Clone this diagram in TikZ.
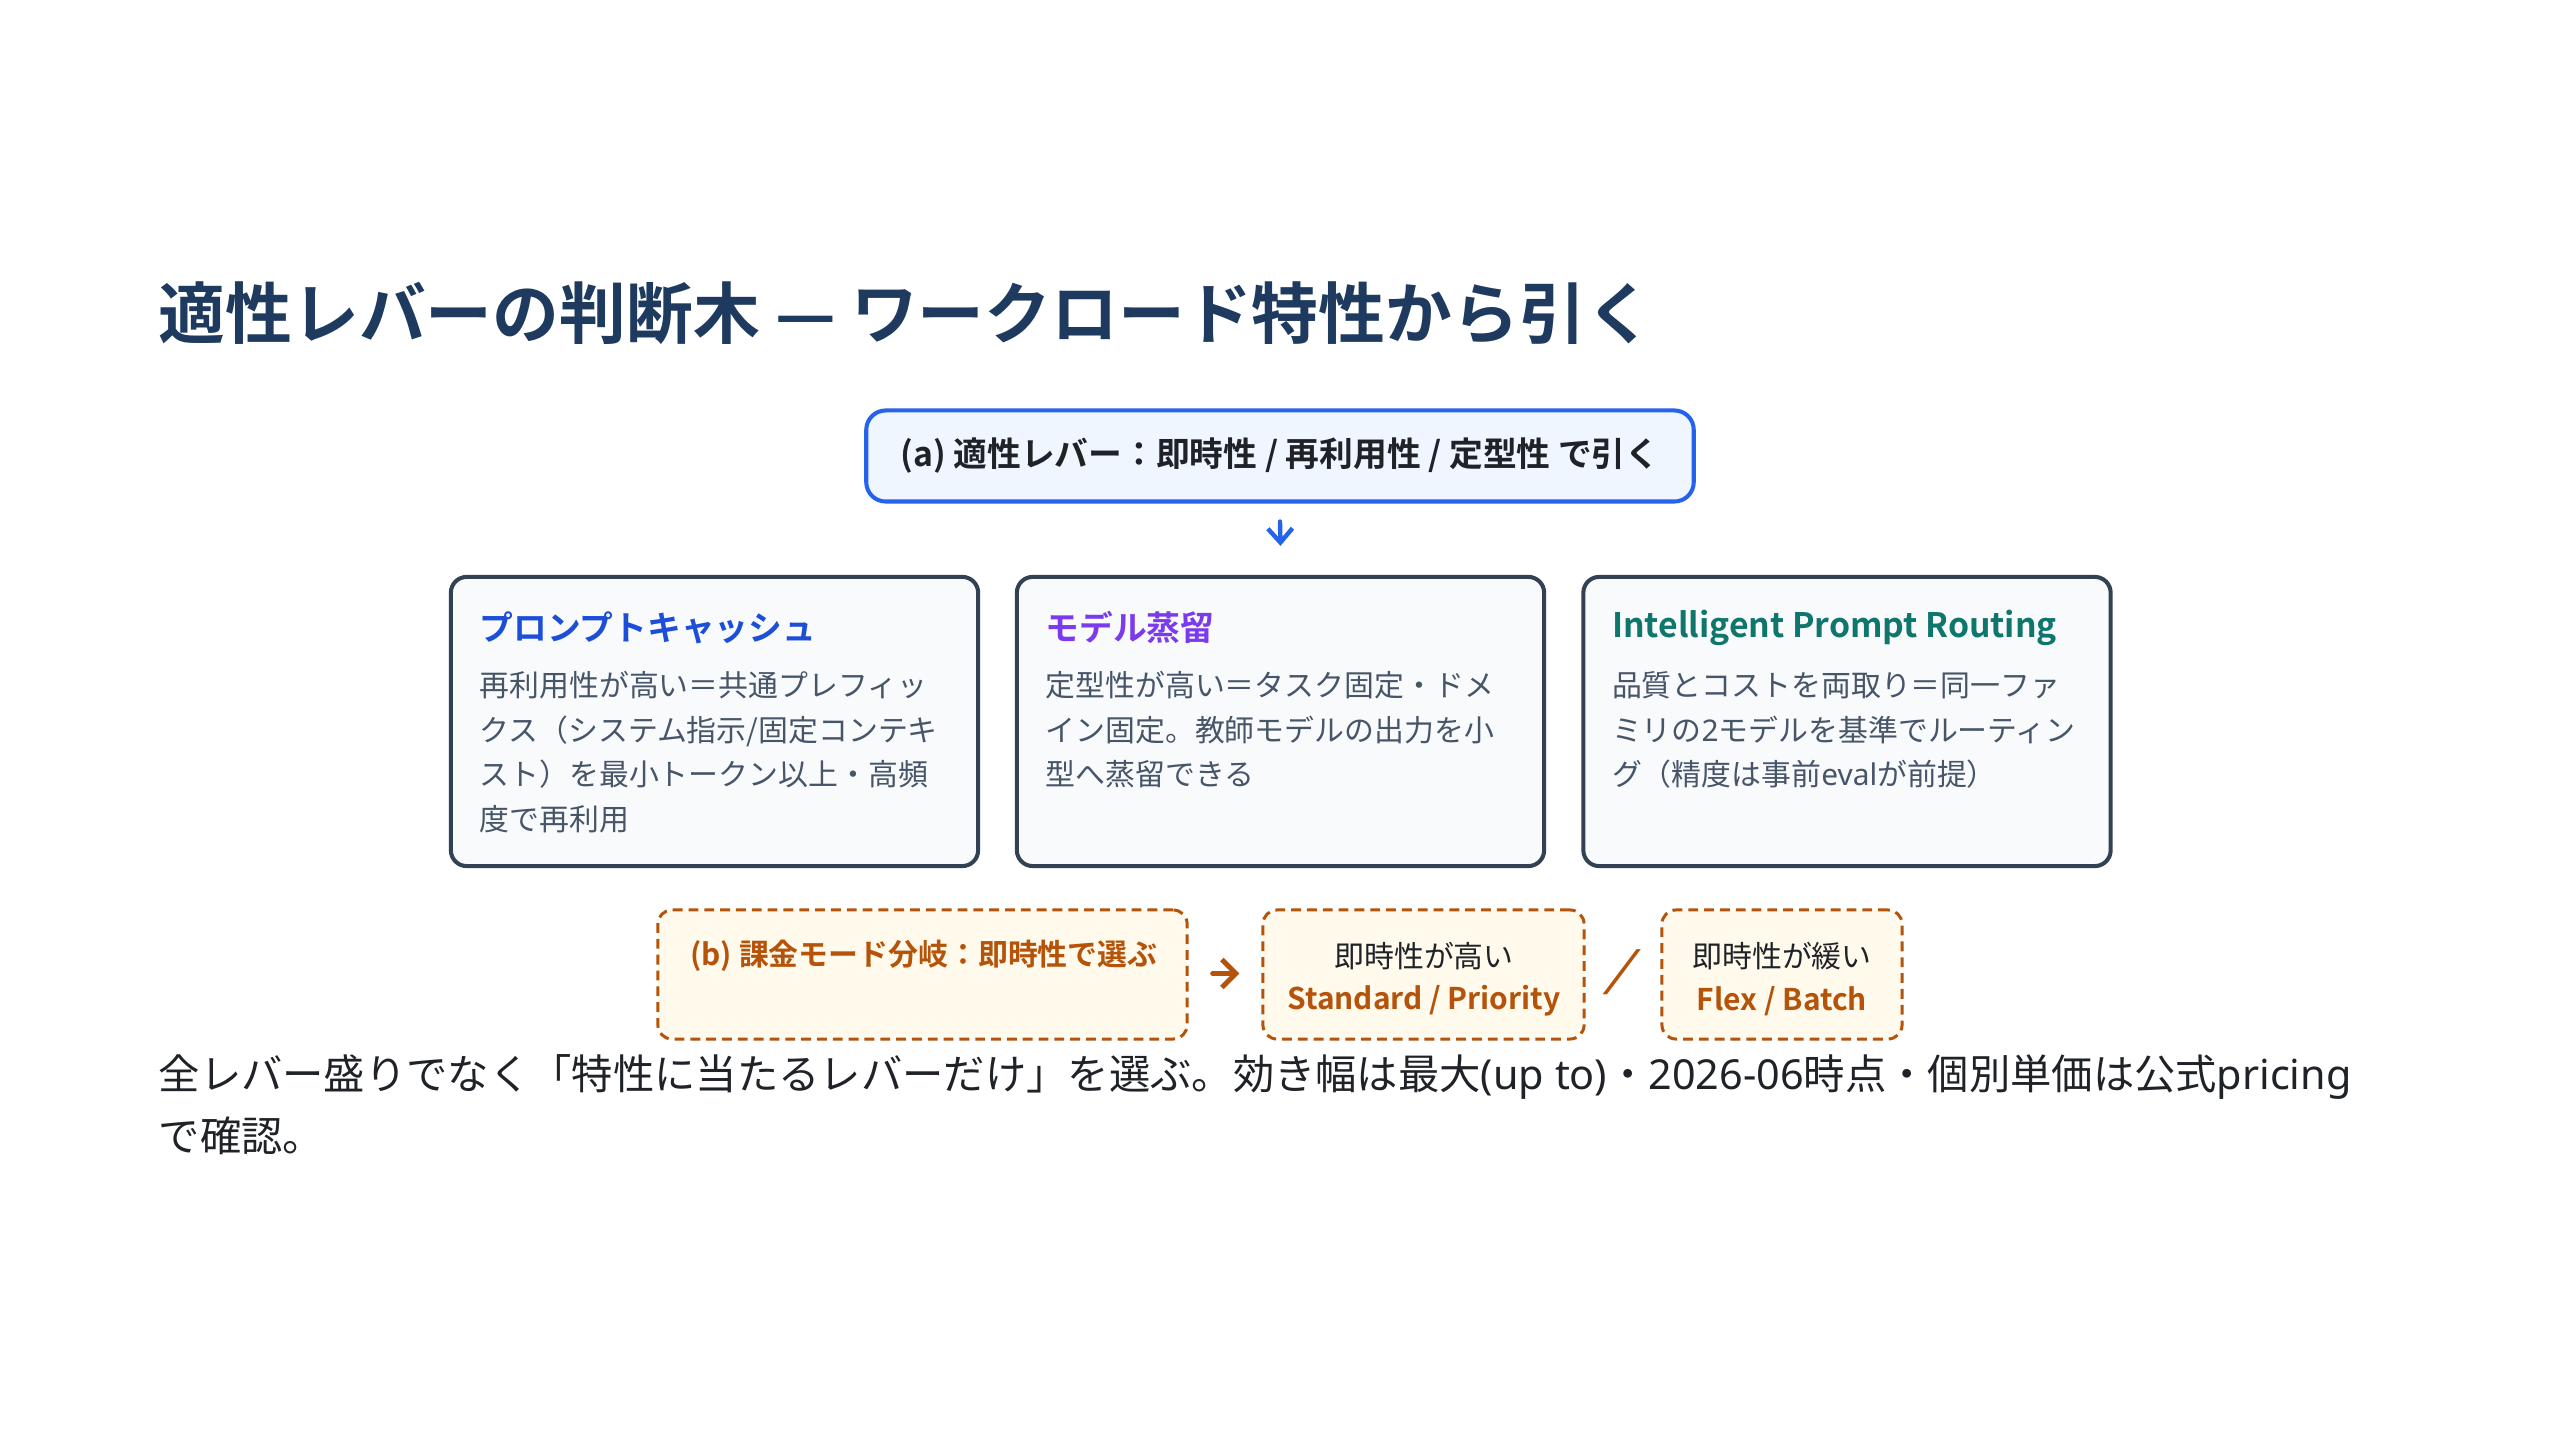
\documentclass[tikz,border=0pt]{standalone}
\usepackage{fontspec}
\setmainfont{Noto Sans CJK JP}[BoldFont={Noto Sans CJK JP Bold}]
\newfontfamily\latinsans{Noto Sans}
\newcommand{\lat}[1]{{\latinsans #1}}
\usetikzlibrary{positioning,arrows.meta}
\definecolor{titlenavy}{HTML}{1E3A5F}
\definecolor{leverblue}{HTML}{2563EB}
\definecolor{leverfill}{HTML}{EFF6FF}
\definecolor{cardline}{HTML}{334155}
\definecolor{cardfill}{HTML}{F8FAFC}
\definecolor{cacheblue}{HTML}{1D4ED8}
\definecolor{distpurple}{HTML}{7C3AED}
\definecolor{routeteal}{HTML}{0F766E}
\definecolor{bodygray}{HTML}{475569}
\definecolor{billorange}{HTML}{B45309}
\definecolor{billfill}{HTML}{FFFAEB}
\definecolor{inktext}{HTML}{1F2328}
\tikzset{
  lever/.style={draw=leverblue,fill=leverfill,line width=1.15pt,rounded corners=5.5pt,
    minimum width=8.27cm,minimum height=0.91cm,inner sep=0pt,text=inktext,
    font=\bfseries\fontsize{9.6pt}{11pt}\selectfont},
  card/.style={draw=cardline,fill=cardfill,line width=1.15pt,rounded corners=4.5pt,
    minimum width=5.27cm,minimum height=2.89cm,inner sep=0pt},
  cardhead/.style={anchor=west,inner sep=0pt,font=\bfseries\fontsize{9.6pt}{11pt}\selectfont},
  cardbody/.style={anchor=north west,inner sep=0pt,align=left,text=bodygray,
    font=\fontsize{8.5pt}{12.66pt}\selectfont},
  bill/.style={draw=billorange,fill=billfill,line width=0.85pt,dash pattern=on 2.8pt off 1.7pt,
    rounded corners=4pt,minimum height=1.29cm,inner sep=0pt},
  billtext/.style={inner sep=0pt,text=inktext,font=\fontsize{8.5pt}{10pt}\selectfont},
  billhead/.style={inner sep=0pt,text=billorange,font=\bfseries\fontsize{8.5pt}{10pt}\selectfont},
  leverarrow/.style={draw=leverblue,line width=1.25pt,line cap=round,
    -{Straight Barb[length=4pt,width=7pt,line width=1.25pt]}},
  billarrow/.style={draw=billorange,line width=1.4pt,line cap=round,
    -{Straight Barb[length=4pt,width=8pt,line width=1.4pt]}},
}
\begin{document}
\begin{tikzpicture}[x=0.01cm,y=-0.01cm]
  \useasboundingbox (0,0) rectangle (2560,1440);
  % title
  \node[anchor=west,inner sep=0pt,text=titlenavy,font=\bfseries\fontsize{19pt}{22pt}\selectfont]
    (title) at (158,313) {適性レバーの判断木 — ワークロード特性から引く};
  % (a) lever question
  \node[lever] (lever) at (1280,456) {(a) 適性レバー：即時性 / 再利用性 / 定型性 で引く};
  % three lever cards
  \node[card] (cache) at (714.5,721.5) {};
  \node[card] (dist) at (1280.5,721.5) {};
  \node[card] (route) at (1847,721.5) {};
  \draw[leverarrow] ([yshift=-0.18cm]lever.south) -- ([yshift=0.29cm]dist.north);
  \node[cardhead,text=cacheblue] (cachehead) at ([xshift=0.3cm,yshift=-0.525cm]cache.north west) {プロンプトキャッシュ};
  \node[cardhead,text=distpurple] (disthead) at ([xshift=0.3cm,yshift=-0.525cm]dist.north west) {モデル蒸留};
  \node[cardhead,text=routeteal] (routehead) at ([xshift=0.3cm,yshift=-0.525cm]route.north west) {Intelligent Prompt Routing};
  \node[cardbody] (cachebody) at ([xshift=0.3cm,yshift=-0.96cm]cache.north west)
    {再利用性が高い＝共通プレフィッ\\クス（システム指示/固定コンテキ\\スト）を最小トークン以上・高頻\\度で再利用};
  \node[cardbody] (distbody) at ([xshift=0.3cm,yshift=-0.96cm]dist.north west)
    {定型性が高い＝タスク固定・ドメ\\イン固定。教師モデルの出力を小\\型へ蒸留できる};
  \node[cardbody] (routebody) at ([xshift=0.3cm,yshift=-0.96cm]route.north west)
    {品質とコストを両取り＝同一ファ\\ミリの\lat{2}モデルを基準でルーティン\\グ（精度は事前\lat{eval}が前提）};
  % (b) billing mode
  \node[bill,minimum width=5.29cm] (billpick) at (922.5,974.5) {};
  \node[bill,minimum width=3.21cm] (billfast) at (1423.5,974.5) {};
  \node[bill,minimum width=2.40cm] (billslow) at (1782,974.5) {};
  \node[billhead] (pickhead) at (924,956) {(b) 課金モード分岐：即時性で選ぶ};
  \node[billtext] (fasttext) at (1424,956) {即時性が高い};
  \node[billhead] (fastmode) at (1424,1001) {Standard / Priority};
  \node[billtext] (slowtext) at (1782,956) {即時性が緩い};
  \node[billhead] (slowmode) at (1782,1001) {Flex / Batch};
  \draw[billarrow] ([xshift=0.24cm,yshift=0.01cm]billpick.east) -- ([xshift=-0.22cm,yshift=0.01cm]billfast.west);
  \node[inner sep=0pt,text=billorange,xslant=0.5,transform shape,
    font=\bfseries\fontsize{13pt}{13pt}\selectfont] (orslash) at (1622,972) {/};
  % note
  \node[anchor=north west,inner sep=0pt,align=left,text=inktext,font=\fontsize{11.75pt}{17.64pt}\selectfont]
    (note) at (158,1054) {全レバー盛りでなく「特性に当たるレバーだけ」を選ぶ。効き幅は最大\lat{(up to)}・\lat{2026-06}時点・個別単価は公式\lat{pricing}\\で確認。};
\end{tikzpicture}
\end{document}
